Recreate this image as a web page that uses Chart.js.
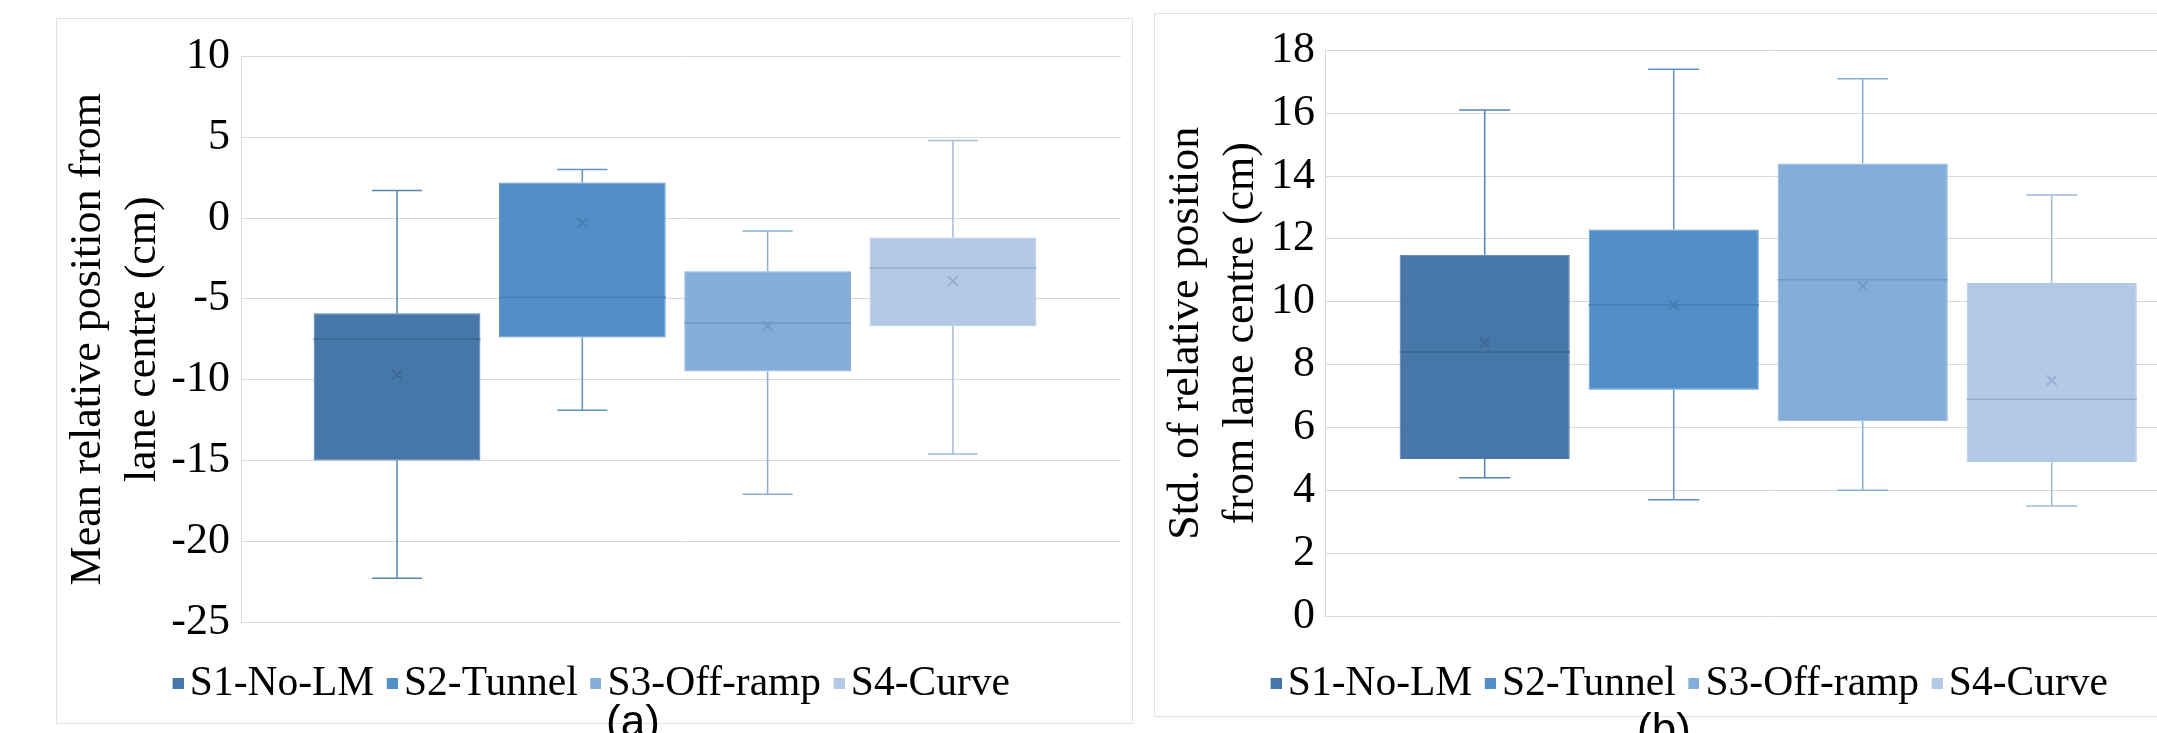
<!DOCTYPE html>
<html><head><meta charset="utf-8">
<script src="https://cdn.jsdelivr.net/npm/chart.js@4.4.1/dist/chart.umd.min.js"></script>
<style>
html,body{margin:0;padding:0;background:#fff;overflow:hidden;width:2157px;height:733px;}
.panel{position:absolute;box-sizing:border-box;border:1px solid #e2e2e2;background:#fff;}
canvas{position:absolute;}
.lab{position:absolute;font-family:'Liberation Sans',Arial,sans-serif;font-size:44px;line-height:44px;color:#000;white-space:nowrap;transform:translateX(-50%);}
</style></head><body>
<div class="panel" style="left:56px;top:18px;width:1077px;height:706px;"></div>
<div class="panel" style="left:1154px;top:13px;width:1077px;height:704px;"></div>
<canvas id="c1" width="1074" height="704" style="left:57px;top:19px;"></canvas>
<canvas id="c2" width="1074" height="702" style="left:1155px;top:14px;"></canvas>
<div class="lab" style="left:633px;top:699px;">(a)</div>
<div class="lab" style="left:1664px;top:707px;">(b)</div>
<script>
// ---------- data ----------
const categories = ['S1-No-LM', 'S2-Tunnel', 'S3-Off-ramp', 'S4-Curve'];

// (a) Mean relative position from lane centre (cm)
const meanMin    = [-22.3, -11.9, -17.1, -14.6];
const meanQ1     = [-15.0,  -7.4,  -9.5,  -6.7];
const meanMedian = [ -7.5,  -4.9,  -6.5,  -3.1];
const meanQ3     = [ -5.9,   2.2,  -3.3,  -1.2];
const meanMax    = [  1.7,   3.0,  -0.8,   4.8];
const meanAvg    = [ -9.7,  -0.3,  -6.7,  -3.9];
const ticksA     = [10, 5, 0, -5, -10, -15, -20, -25];

// (b) Std. of relative position from lane centre (cm)
const stdMin    = [ 4.4,  3.7,  4.0,  3.5];
const stdQ1     = [ 5.0,  7.2,  6.2,  4.9];
const stdMedian = [ 8.4,  9.9, 10.7,  6.9];
const stdQ3     = [11.5, 12.3, 14.4, 10.6];
const stdMax    = [16.1, 17.4, 17.1, 13.4];
const stdAvg    = [ 8.7,  9.9, 10.5,  7.5];
const ticksB    = [18, 16, 14, 12, 10, 8, 6, 4, 2, 0];

// ---------- styles ----------
const fills    = ['#4677a8', '#528fc8', '#84addb', '#b4c9e6'];
const borders  = ['#4b7cad', '#5893cb', '#8ab1dc', '#b0c6e3'];
const whiskers = ['#5883b2', '#5c93c9', '#8aaed8', '#a3bbdb'];
const medians  = ['#3b6794', '#467cb0', '#7399c6', '#96afd1'];
const SERIF = "'Liberation Serif', 'Times New Roman', serif";

function swatch(fill) {
  const c = document.createElement('canvas');
  c.width = 30; c.height = 11;
  const g = c.getContext('2d');
  g.fillStyle = fill; g.fillRect(19, 0, 11, 11);
  return c;
}
const swatches = fills.map(swatch);

const boxStatsPlugin = {
  id: 'boxStats',
  beforeDatasetsDraw(chart, args, o) {
    const ctx = chart.ctx, y = chart.scales.y;
    o.min.forEach((v, i) => {
      const bar = chart.getDatasetMeta(i).data[0];
      const cx = bar.x, cap = bar.width * 0.3;
      const yMin = y.getPixelForValue(o.min[i]), yMax = y.getPixelForValue(o.max[i]);
      const yQ1 = y.getPixelForValue(o.q1[i]), yQ3 = y.getPixelForValue(o.q3[i]);
      ctx.save();
      ctx.strokeStyle = whiskers[i]; ctx.lineWidth = 1.5;
      ctx.beginPath();
      ctx.moveTo(cx, yQ3); ctx.lineTo(cx, yMax);
      ctx.moveTo(cx - cap / 2, yMax); ctx.lineTo(cx + cap / 2, yMax);
      ctx.moveTo(cx, yQ1); ctx.lineTo(cx, yMin);
      ctx.moveTo(cx - cap / 2, yMin); ctx.lineTo(cx + cap / 2, yMin);
      ctx.stroke();
      ctx.restore();
    });
  },
  afterDatasetsDraw(chart, args, o) {
    const ctx = chart.ctx, y = chart.scales.y;
    o.median.forEach((v, i) => {
      const bar = chart.getDatasetMeta(i).data[0];
      const ym = y.getPixelForValue(v);
      ctx.save();
      ctx.strokeStyle = medians[i]; ctx.lineWidth = 1.5;
      ctx.beginPath();
      ctx.moveTo(bar.x - bar.width / 2, ym); ctx.lineTo(bar.x + bar.width / 2, ym);
      ctx.stroke();
      ctx.restore();
    });
  }
};

function makeChart(id, s) {
  const datasets = categories.map((name, i) => ({
    type: 'bar',
    label: name,
    data: [{x: i + 1, y: [s.q1[i], s.q3[i]]}],
    backgroundColor: fills[i],
    borderColor: borders[i],
    borderWidth: 1,
    borderSkipped: false,
    grouped: false,
    categoryPercentage: 1,
    barPercentage: 0.9,
    order: 2
  }));
  datasets.push({
    type: 'scatter',
    label: 'Mean',
    data: categories.map((c, i) => ({x: i + 1, y: s.avg[i]})),
    pointStyle: 'crossRot',
    pointRadius: 7,
    pointBorderWidth: 1.8,
    pointBorderColor: medians,
    pointBackgroundColor: medians,
    showLine: false,
    order: 1
  });
  return new Chart(document.getElementById(id), {
    type: 'bar',
    data: {datasets},
    plugins: [boxStatsPlugin],
    options: {
      responsive: false,
      animation: false,
      events: [],
      devicePixelRatio: 1,
      layout: {padding: s.padding},
      scales: {
        x: {
          type: 'linear',
          offset: false,
          min: s.xMin, max: s.xMax,
          display: true,
          ticks: {display: false, stepSize: 1, includeBounds: false},
          grid: {display: false, offset: false},
          border: {display: false},
          afterFit: sc => { sc.height = s.xHeight; }
        },
        y: {
          min: s.yMin, max: s.yMax,
          afterBuildTicks: sc => { sc.ticks = s.ticks.map(v => ({value: v})); },
          afterFit: sc => { sc.width = s.yWidth; },
          ticks: {
            color: '#000', padding: s.tickPad,
            font: {family: SERIF, size: 44},
            callback: v => String(v)
          },
          grid: {color: '#d9d9d9', lineWidth: 1, drawTicks: false},
          border: {display: true, color: '#d9d9d9', width: 1},
          title: {
            display: true, text: s.title, color: '#000',
            font: {family: SERIF, size: 44, lineHeight: 1.25},
            padding: {top: 3.5, bottom: 0}
          }
        }
      },
      plugins: {
        tooltip: {enabled: false},
        boxStats: {min: s.min, max: s.max, q1: s.q1, q3: s.q3, median: s.median},
        legend: {
          position: 'bottom',
          align: 'center',
          labels: {
            color: '#000',
            font: {family: SERIF, size: 41.5},
            usePointStyle: true,
            boxWidth: 1,
            boxHeight: 11,
            padding: 8,
            generateLabels(chart) {
              const items = Chart.defaults.plugins.legend.labels.generateLabels(chart);
              return items.filter(it => it.datasetIndex < categories.length).map(it => {
                it.pointStyle = swatches[it.datasetIndex];
                return it;
              });
            }
          }
        }
      }
    }
  });
}

makeChart('c1', {
  min: meanMin, q1: meanQ1, median: meanMedian, q3: meanQ3, max: meanMax, avg: meanAvg,
  ticks: ticksA, yMin: -25, yMax: 10,
  title: ['Mean relative position from', 'lane centre (cm)'],
  xMin: 0.158, xMax: 4.907, yWidth: 184, tickPad: 11, xHeight: 33,
  padding: {top: 32, right: 10, bottom: 8.5, left: 0}
});
makeChart('c2', {
  min: stdMin, q1: stdQ1, median: stdMedian, q3: stdQ3, max: stdMax, avg: stdAvg,
  ticks: ticksB, yMin: 0, yMax: 18,
  title: ['Std. of relative position', 'from lane centre (cm)'],
  xMin: 0.155, xMax: 4.885, yWidth: 170, tickPad: 10, xHeight: 39,
  padding: {top: 30.5, right: 10, bottom: 1.5, left: 0}
});
</script>
</body></html>
